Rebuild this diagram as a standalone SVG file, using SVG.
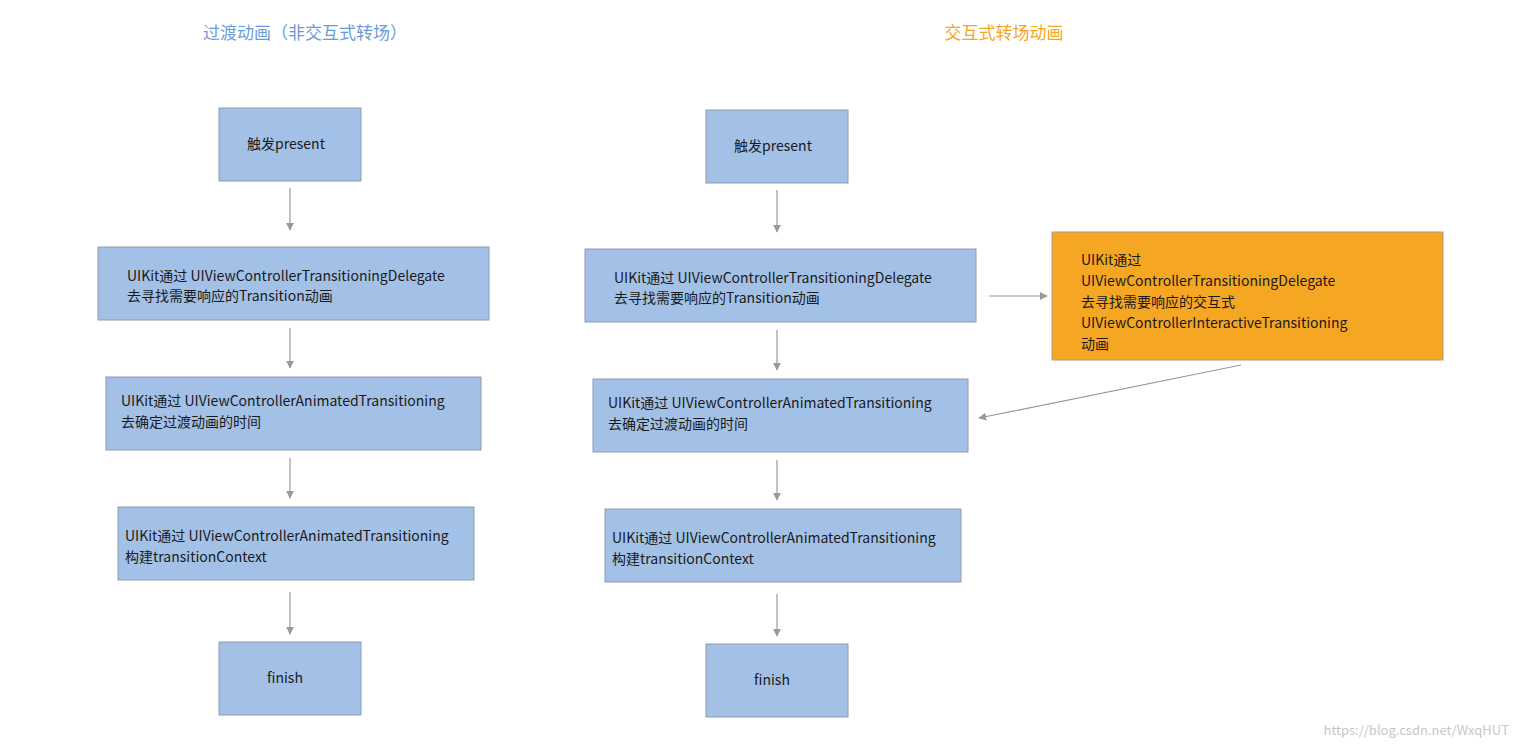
<svg xmlns="http://www.w3.org/2000/svg" width="1519" height="748" viewBox="0 0 1519 748">
<style>
.b{fill:#a3c1e6;stroke:#8e9bab;stroke-width:1}
.o{fill:#f5a623;stroke:#b49a78;stroke-width:1}
text{font-family:"Noto Sans CJK SC","Noto Sans",sans-serif;font-size:14px;fill:#1a1a1a}
.c{stroke:#999;stroke-width:1.2;fill:none;marker-end:url(#a)}
</style>
<defs><marker id="a" viewBox="0 0 10 10" refX="9" refY="5" markerWidth="8" markerHeight="8" orient="auto" markerUnits="userSpaceOnUse"><path d="M0,0L10,5L0,10z" fill="#999"/></marker></defs>
<rect width="1519" height="748" fill="#fff"/>
<text x="305" y="39" text-anchor="middle" style="font-size:17px;fill:#6a9bd8">过渡动画（非交互式转场）</text>
<text x="1004" y="39" text-anchor="middle" style="font-size:17px;fill:#f5a623">交互式转场动画</text>
<g id="l1"><rect class="b" x="219" y="108" width="142" height="73"/><text x="286" y="149" text-anchor="middle">触发present</text></g>
<g id="l2"><rect class="b" x="98" y="247" width="391" height="73"/><text x="127" y="281">UIKit通过 UIViewControllerTransitioningDelegate</text><text x="127" y="301">去寻找需要响应的Transition动画</text></g>
<g id="l3"><rect class="b" x="106" y="377" width="375" height="73"/><text x="121" y="406">UIKit通过 UIViewControllerAnimatedTransitioning</text><text x="121" y="427">去确定过渡动画的时间</text></g>
<g id="l4"><rect class="b" x="118" y="507" width="356" height="73"/><text x="125" y="541">UIKit通过 UIViewControllerAnimatedTransitioning</text><text x="125" y="562">构建transitionContext</text></g>
<g id="l5"><rect class="b" x="219" y="642" width="142" height="73"/><text x="285" y="683" text-anchor="middle">finish</text></g>
<g id="r1"><rect class="b" x="706" y="110" width="142" height="73"/><text x="773" y="151" text-anchor="middle">触发present</text></g>
<g id="r2"><rect class="b" x="585" y="249" width="391" height="73"/><text x="614" y="283">UIKit通过 UIViewControllerTransitioningDelegate</text><text x="614" y="303">去寻找需要响应的Transition动画</text></g>
<g id="r3"><rect class="b" x="593" y="379" width="375" height="73"/><text x="608" y="408">UIKit通过 UIViewControllerAnimatedTransitioning</text><text x="608" y="429">去确定过渡动画的时间</text></g>
<g id="r4"><rect class="b" x="605" y="509" width="356" height="73"/><text x="612" y="543">UIKit通过 UIViewControllerAnimatedTransitioning</text><text x="612" y="564">构建transitionContext</text></g>
<g id="r5"><rect class="b" x="706" y="644" width="142" height="73"/><text x="772" y="685" text-anchor="middle">finish</text></g>
<g id="ro"><rect class="o" x="1052" y="232" width="391" height="128"/>
<text x="1081" y="265">UIKit通过</text><text x="1081" y="286">UIViewControllerTransitioningDelegate</text><text x="1081" y="307">去寻找需要响应的交互式</text><text x="1081" y="328">UIViewControllerInteractiveTransitioning</text><text x="1081" y="349">动画</text></g>
<g id="connectors">
<path class="c" d="M290,188V230"/><path class="c" d="M290,328V368"/><path class="c" d="M290,458V498"/><path class="c" d="M290,592V634"/>
<path class="c" d="M777,190V232"/><path class="c" d="M777,330V370"/><path class="c" d="M777,460V500"/><path class="c" d="M777,594V636"/>
<path class="c" d="M989,296H1047"/><path class="c" d="M1241,365L979,418"/>
</g>
<text x="1509" y="735" text-anchor="end" style="font-size:13px;fill:#c8c8c8">https://blog.csdn.net/WxqHUT</text>
</svg>
